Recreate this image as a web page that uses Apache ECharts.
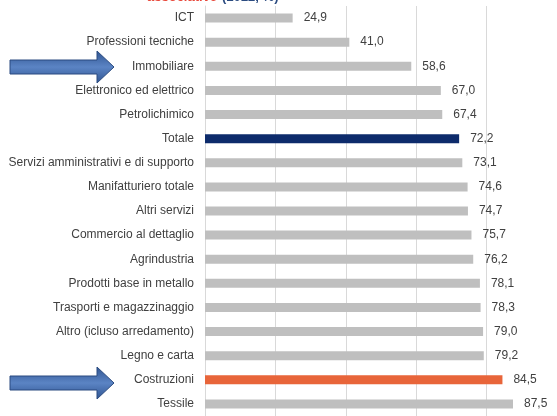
<!DOCTYPE html>
<html>
<head>
<meta charset="utf-8">
<script src="https://cdn.jsdelivr.net/npm/echarts@6/dist/echarts.min.js"></script>
<style>
  html, body { margin: 0; padding: 0; background: #fff; }
  #chart { width: 557px; height: 416px; }
</style>
</head>
<body>
<div id="chart"></div>
<script>
const categories = [
  'ICT',
  'Professioni tecniche',
  'Immobiliare',
  'Elettronico ed elettrico',
  'Petrolichimico',
  'Totale',
  'Servizi amministrativi e di supporto',
  'Manifatturiero totale',
  'Altri servizi',
  'Commercio al dettaglio',
  'Agrindustria',
  'Prodotti base in metallo',
  'Trasporti e magazzinaggio',
  'Altro (icluso arredamento)',
  'Legno e carta',
  'Costruzioni',
  'Tessile',
]
const values = [24.9, 41.0, 58.6, 67.0, 67.4, 72.2, 73.1, 74.6, 74.7, 75.7, 76.2, 78.1, 78.3, 79.0, 79.2, 84.5, 87.5]
const highlight = { 'Totale': '#0d2b6b', 'Costruzioni': '#e8653a' }
const xTicks = [0, 20, 40, 60, 80, 100]

const chart = echarts.init(document.getElementById('chart'))

// blue block arrow next to a category row
function arrow(cy) {
  return {
    type: 'polygon',
    shape: {
      points: [
        [10, cy - 7], [97, cy - 7], [97, cy - 16], [114, cy],
        [97, cy + 16], [97, cy + 7], [10, cy + 7],
      ],
    },
    style: {
      fill: new echarts.graphic.LinearGradient(0, 0, 0, 1, [
        { offset: 0, color: '#2f5491' },
        { offset: 0.5, color: '#5b84c4' },
        { offset: 1, color: '#2f5491' },
      ]),
      stroke: '#2b4b80',
      lineWidth: 1,
    },
  }
}

chart.setOption({
  animation: false,
  title: {
    text: '{r|associative} {b|(2022, %)}',
    left: 142,
    top: -17,
    textStyle: {
      rich: {
        r: { color: '#e8473a', fontSize: 13, fontWeight: 'bold', fontFamily: 'Liberation Sans' },
        b: { color: '#2b4b80', fontSize: 13, fontWeight: 'bold', fontFamily: 'Liberation Sans' },
      },
    },
  },
  grid: { left: 205, right: 0, top: 6, bottom: -3, containLabel: false },
  xAxis: {
    type: 'value',
    min: xTicks[0],
    max: xTicks[xTicks.length - 1],
    interval: 20,
    axisLabel: { show: false },
    axisLine: { show: false },
    axisTick: { show: false },
    splitLine: { lineStyle: { color: '#d9d9d9', width: 1 } },
  },
  yAxis: {
    type: 'category',
    data: categories,
    inverse: true,
    axisTick: { show: false },
    axisLine: { show: true, lineStyle: { color: '#d9d9d9' } },
    axisLabel: {
      margin: 11,
      color: '#404040',
      fontSize: 12,
      fontFamily: 'Liberation Sans',
    },
  },
  series: [{
    type: 'bar',
    barWidth: 9,
    data: values.map((v, i) => ({
      value: v,
      itemStyle: { color: highlight[categories[i]] || '#bfbfbf' },
    })),
    label: {
      show: true,
      position: 'right',
      distance: 11,
      color: '#404040',
      fontSize: 12,
      fontFamily: 'Liberation Sans',
      formatter: p => p.value.toFixed(1).replace('.', ','),
    },
  }],
  graphic: [arrow(67), arrow(383)],
})
</script>
</body>
</html>
